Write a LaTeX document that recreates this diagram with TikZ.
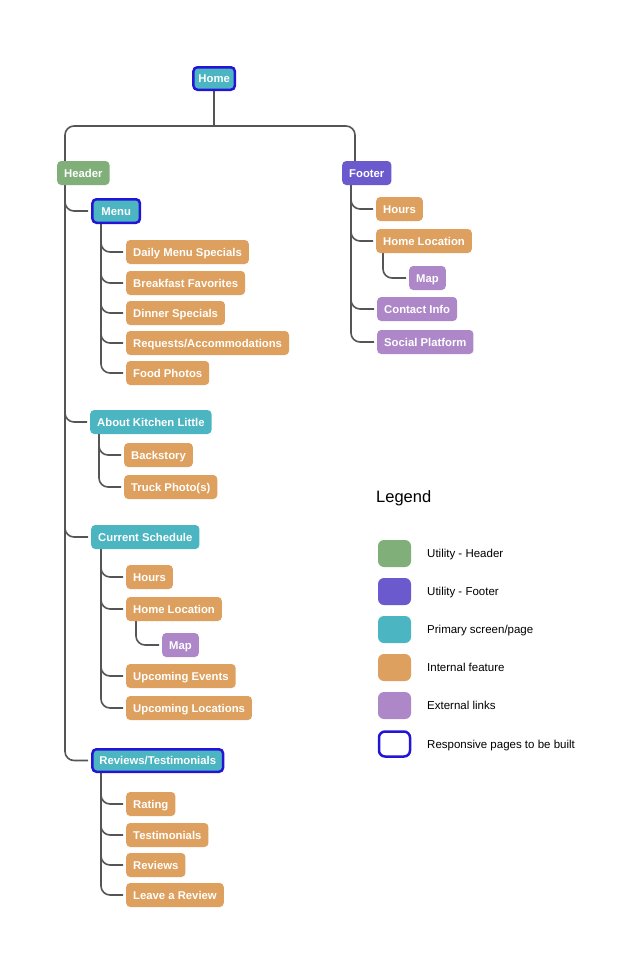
\documentclass[tikz,border=0pt]{standalone}
\usepackage{fontspec}
\setmainfont{Liberation Sans}
\usetikzlibrary{backgrounds}
\definecolor{cgreen}{HTML}{80AF7A}
\definecolor{cpurple}{HTML}{6A5ACD}
\definecolor{cteal}{HTML}{4BB5C1}
\definecolor{corange}{HTML}{DDA05F}
\definecolor{clav}{HTML}{AE87C8}
\definecolor{cblue}{HTML}{2414D6}
\definecolor{cline}{HTML}{555555}
\tikzset{
  box/.style={rounded corners=4pt, text=white, font=\bfseries\fontsize{11.3}{13}\selectfont,
    minimum height=24pt, inner xsep=7pt, inner ysep=0pt, text height=8pt, text depth=0pt, anchor=west},
  hdr/.style={box, fill=cgreen},
  ftr/.style={box, fill=cpurple},
  prim/.style={box, fill=cteal},
  feat/.style={box, fill=corange},
  ext/.style={box, fill=clav},
  resp/.style={draw=cblue, line width=2.5pt, minimum height=22.5pt},
  conn/.style={draw=cline, line width=1.6pt, rounded corners=9pt},
  child/.style={conn, shorten >=3pt},
  swatch/.style={rounded corners=6pt, minimum width=33pt, minimum height=27pt, inner sep=0pt},
  legtext/.style={font=\fontsize{11.5}{13}\selectfont, anchor=west, inner sep=0pt, text height=8.2pt, text depth=0pt}
}
\begin{document}
\begin{tikzpicture}[x=1pt,y=-1pt]
\useasboundingbox (0,0) rectangle (632,977);
% coordinates for trunks
\coordinate (bar) at (0,126);
\coordinate (ht) at (65,0);
\coordinate (ft) at (355,0);
\coordinate (ftc) at (351,0);
\coordinate (mt) at (101,0);
\coordinate (at) at (99,0);
\coordinate (st) at (101,0);
\coordinate (slt) at (136,0);
\coordinate (rt) at (101,0);
\coordinate (flt) at (383,0);

\node[prim,resp,inner xsep=5pt] (Home) at (192.2,78.5) {Home};
\node[hdr] (Header) at (57,173) {Header};
\node[ftr] (Footer) at (342,173) {Footer};

% Header branch
\node[prim,resp,inner xsep=9pt,minimum height=23.5pt] (Menu) at (91.2,211) {Menu};
\node[feat] (DMS) at (126,252) {Daily Menu Specials};
\node[feat] (BF) at (126,283) {Breakfast Favorites};
\node[feat] (DS) at (126,313) {Dinner Specials};
\node[feat] (RA) at (126,343) {Requests/Accommodations};
\node[feat] (FP) at (126,373) {Food Photos};

\node[prim] (About) at (90,422) {About Kitchen Little};
\node[feat] (Back) at (124,455) {Backstory};
\node[feat] (Truck) at (124,487) {Truck Photo(s)};

\node[prim] (Sched) at (91,537) {Current Schedule};
\node[feat] (SHours) at (126,577) {Hours};
\node[feat] (SLoc) at (126,609) {Home Location};
\node[ext] (SMap) at (162,645) {Map};
\node[feat] (UE) at (126,676) {Upcoming Events};
\node[feat] (UL) at (126,708) {Upcoming Locations};

\node[prim,resp] (Rev) at (91.2,760.5) {Reviews/Testimonials};
\node[feat] (Rat) at (126,804) {Rating};
\node[feat] (Test) at (126,835) {Testimonials};
\node[feat] (Revs) at (126,865) {Reviews};
\node[feat] (Leave) at (126,895) {Leave a Review};

% Footer branch
\node[feat] (FHours) at (376,209) {Hours};
\node[feat] (FLoc) at (376,241) {Home Location};
\node[ext] (FMap) at (409,278) {Map};
\node[ext] (Contact) at (377,309) {Contact Info};
\node[ext] (Social) at (377,342) {Social Platform};

% Legend
\node[anchor=west, inner sep=0pt, font=\fontsize{16.5}{18}\selectfont] (LegT) at (376,498) {Legend};
\node[swatch, fill=cgreen] (L1) at (394.5,553.5) {};
\node[swatch, fill=cpurple] (L2) at (394.5,591.5) {};
\node[swatch, fill=cteal] (L3) at (394.5,629.5) {};
\node[swatch, fill=corange] (L4) at (394.5,667.5) {};
\node[swatch, fill=clav] (L5) at (394.5,705.5) {};
\node[swatch, draw=cblue, line width=2.5pt, minimum width=31pt, minimum height=25pt] (L6) at (394.5,744) {};
\node[legtext] (T1) at (427,553.5) {Utility - Header};
\node[legtext] (T2) at (427,591.5) {Utility - Footer};
\node[legtext] (T3) at (427,629.5) {Primary screen/page};
\node[legtext] (T4) at (427,667.5) {Internal feature};
\node[legtext] (T5) at (427,705.5) {External links};
\node[legtext] (T6) at (427,744) {Responsive pages to be built};

\begin{pgfonlayer}{background}
\draw[conn] (Home.south) -- (Home.south |- bar);
\draw[conn] (Home.south |- bar) -| (Header.north -| ht);
\draw[conn] (Home.south |- bar) -| (Footer.north -| ft);

\foreach \c in {Menu,About,Sched,Rev}
  \draw[child] (Header.south -| ht) |- (\c.west);
\foreach \c in {DMS,BF,DS,RA,FP}
  \draw[child] (Menu.south -| mt) |- (\c.west);
\foreach \c in {Back,Truck}
  \draw[child] (About.south -| at) |- (\c.west);
\foreach \c in {SHours,SLoc,UE,UL}
  \draw[child] (Sched.south -| st) |- (\c.west);
\draw[child] (SLoc.south -| slt) |- (SMap.west);
\foreach \c in {Rat,Test,Revs,Leave}
  \draw[child] (Rev.south -| rt) |- (\c.west);
\foreach \c in {FHours,FLoc,Contact,Social}
  \draw[child] (Footer.south -| ftc) |- (\c.west);
\draw[child] (FLoc.south -| flt) |- (FMap.west);
\end{pgfonlayer}
\end{tikzpicture}
\end{document}
